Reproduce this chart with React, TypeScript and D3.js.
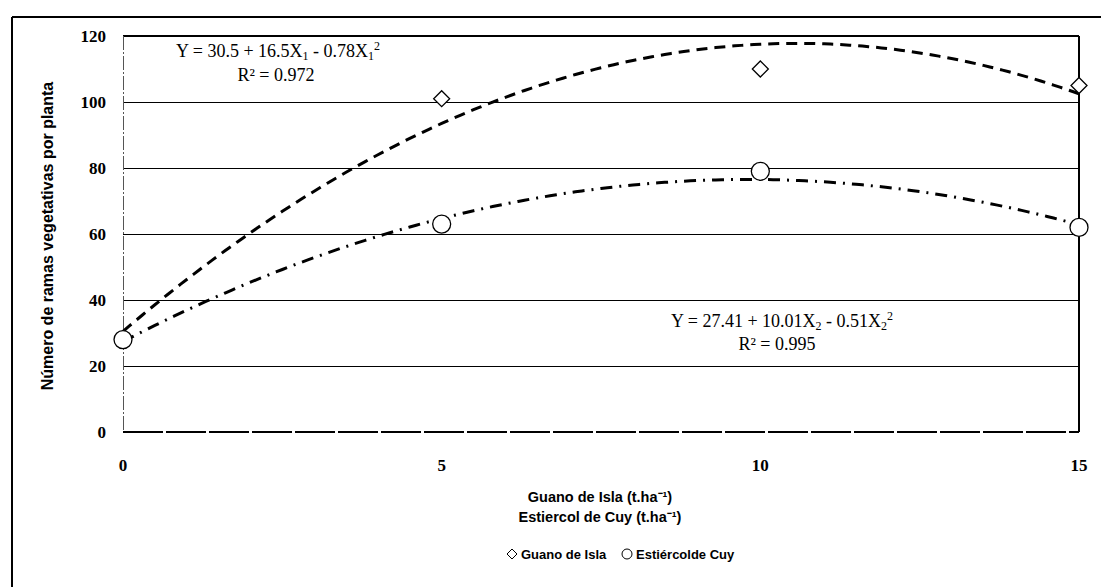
import React from "react";
import * as d3 from "d3";

const doses = [0, 5, 10, 15];
const guanoValues = [28, 101, 110, 105];
const cuyValues = [28, 63, 79, 62];
const guanoCoef = [30.5, 16.5, -0.78];
const cuyCoef = [27.41, 10.01, -0.51];
const yTicks = [0, 20, 40, 60, 80, 100, 120];
const xTicks = [0, 5, 10, 15];

const W = 1102, H = 587;
const x = d3.scaleLinear().domain([0, 15]).range([123, 1079]);
const y = d3.scaleLinear().domain([0, 120]).range([432, 36]);

function curve(coef: number[]) {
  const pts: [number, number][] = [];
  for (let i = 0; i <= 150; i++) {
    const xv = (15 * i) / 150;
    pts.push([xv, coef[0] + coef[1] * xv + coef[2] * xv * xv]);
  }
  return d3.line<[number, number]>().x(d => x(d[0])).y(d => y(d[1]))(pts) || "";
}

const diamond = (cx: number, cy: number, r = 8) =>
  `M${cx},${cy - r}L${cx + r},${cy}L${cx},${cy + r}L${cx - r},${cy}Z`;

export default function App() {
  const serif = "'Liberation Serif', 'Times New Roman', serif";
  const sans = "'Liberation Sans', Arial, sans-serif";
  return (
    <svg width={W} height={H} style={{ position: "absolute", left: 0, top: 0, background: "#fff" }}>
      <rect x={0} y={0} width={W} height={H} fill="#fff" />
      {/* outer frame */}
      <line x1={12} y1={17} x2={1101} y2={17} stroke="#000" strokeWidth={2} />
      <line x1={12} y1={17} x2={12} y2={587} stroke="#000" strokeWidth={2} />
      {/* gridlines */}
      {yTicks.filter(t => t > 0).map(t => (
        <line key={t} x1={x(0)} x2={x(15)} y1={y(t)} y2={y(t)} stroke="#000" strokeWidth={t === 120 ? 2 : 1} shapeRendering="crispEdges" />
      ))}
      {/* plot border */}
      <line x1={x(0)} x2={x(15)} y1={y(0)} y2={y(0)} stroke="#000" strokeWidth={2} strokeDasharray="40 3" shapeRendering="crispEdges" />
      <line x1={x(15)} x2={x(15)} y1={y(120)} y2={y(0)} stroke="#000" strokeWidth={2} shapeRendering="crispEdges" />
      <line x1={x(0)} x2={x(0)} y1={y(120)} y2={y(0)} stroke="#555" strokeWidth={1} strokeDasharray="14 2 2 2" shapeRendering="crispEdges" />
      {/* y tick labels */}
      {yTicks.map(t => (
        <text key={t} x={106} y={y(t) + 6} textAnchor="end" fontFamily={serif} fontWeight="bold" fontSize={17}>{t}</text>
      ))}
      {/* x tick labels */}
      {xTicks.map(t => (
        <text key={t} x={x(t)} y={471} textAnchor="middle" fontFamily={serif} fontWeight="bold" fontSize={17}>{t}</text>
      ))}
      {/* trend curves */}
      <path d={curve(guanoCoef)} fill="none" stroke="#000" strokeWidth={3} strokeDasharray="11 7" />
      <path d={curve(cuyCoef)} fill="none" stroke="#000" strokeWidth={3} strokeDasharray="12 7 2 7" />
      {/* markers */}
      {doses.map((d, i) => (
        <path key={"g" + i} d={diamond(x(d), y(guanoValues[i]))} fill="#fff" stroke="#000" strokeWidth={1.3} />
      ))}
      {doses.map((d, i) => (
        <circle key={"c" + i} cx={x(d)} cy={y(cuyValues[i])} r={9} fill="#fff" stroke="#000" strokeWidth={1.3} />
      ))}
      {/* equations */}
      <text x={278} y={57} textAnchor="middle" fontFamily={serif} fontSize={18}>
        Y = 30.5 + 16.5X<tspan fontSize={12} dy={3}>1</tspan><tspan dy={-3}> - 0.78X</tspan><tspan fontSize={12} dy={3}>1</tspan><tspan fontSize={12} dy={-10}>2</tspan>
      </text>
      <text x={276} y={81} textAnchor="middle" fontFamily={serif} fontSize={18}>R² = 0.972</text>
      <text x={782} y={327} textAnchor="middle" fontFamily={serif} fontSize={18}>
        Y = 27.41 + 10.01X<tspan fontSize={12} dy={3}>2</tspan><tspan dy={-3}> - 0.51X</tspan><tspan fontSize={12} dy={3}>2</tspan><tspan fontSize={12} dy={-10}>2</tspan>
      </text>
      <text x={777} y={350} textAnchor="middle" fontFamily={serif} fontSize={18}>R² = 0.995</text>
      {/* y axis title */}
      <text transform={`translate(53,236) rotate(-90)`} textAnchor="middle" fontFamily={sans} fontWeight="bold" fontSize={16}>
        Número de ramas vegetativas  por planta
      </text>
      {/* x axis titles */}
      <text x={600} y={502} textAnchor="middle" fontFamily={sans} fontWeight="bold" fontSize={14.5}>Guano de Isla (t.ha⁻¹)</text>
      <text x={600} y={522} textAnchor="middle" fontFamily={sans} fontWeight="bold" fontSize={14.5}>Estiercol de Cuy (t.ha⁻¹)</text>
      {/* legend */}
      <path d={diamond(512, 554, 5)} fill="#fff" stroke="#000" strokeWidth={1} />
      <text x={521} y={559} fontFamily={sans} fontWeight="bold" fontSize={13}>Guano de Isla</text>
      <circle cx={627} cy={554} r={5} fill="#fff" stroke="#000" strokeWidth={1} />
      <text x={636} y={559} fontFamily={sans} fontWeight="bold" fontSize={13}>Estiércolde Cuy</text>
    </svg>
  );
}
